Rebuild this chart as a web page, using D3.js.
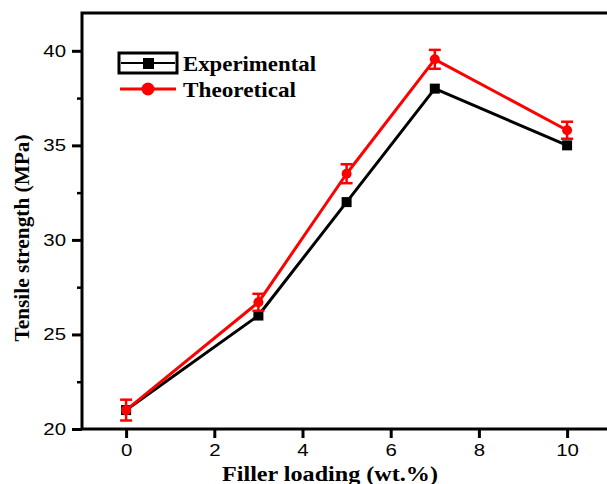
<!DOCTYPE html>
<html>
<head>
<meta charset="utf-8">
<script src="https://cdn.jsdelivr.net/npm/d3@7"></script>
<style>
  html, body { margin: 0; background: #fff; overflow: hidden; }
  svg { display: block; overflow: hidden; }
</style>
</head>
<body>
<svg id="chart" width="607" height="484"></svg>
<script>
/* ---------- data ---------- */
const loading      = [0, 3, 5, 7, 10];
const experimental = [21, 26, 32, 38, 35];
const theoretical  = [21, 26.7, 33.5, 39.55, 35.8];
const theoErr      = [0.55, 0.45, 0.5, 0.5, 0.45];
const xTicks = [0, 2, 4, 6, 8, 10];
const yTicks = [20, 25, 30, 35, 40];
const yMinor = [22.5, 27.5, 32.5, 37.5];

/* ---------- layout ---------- */
const svg = d3.select("#chart");
const L = 82, T = 13, B = 429;
const PX = 44.1;                       // px per wt.% in the reference
const x = d3.scaleLinear().domain([-1, 11.5]).range([L, L + 12.5 * PX]);
const y = d3.scaleLinear().domain([20, 42]).range([B, T]);
const R = x.range()[1];

// stretch a text horizontally to a given width (the reference is stretched)
function stretch(sel, k) {
  sel.each(function () {
    const w = this.getComputedTextLength();
    d3.select(this).attr("textLength", w * k).attr("lengthAdjust", "spacingAndGlyphs");
  });
}

// frame
svg.append("rect")
  .attr("x", L).attr("y", T).attr("width", R - L).attr("height", B - T)
  .attr("fill", "none").attr("stroke", "#000").attr("stroke-width", 3);

// axes
const xAxis = svg.append("g").attr("transform", `translate(0,${B})`)
  .call(d3.axisBottom(x).tickValues(xTicks).tickSize(9).tickPadding(6));
const yAxis = svg.append("g").attr("transform", `translate(${L},0)`)
  .call(d3.axisLeft(y).tickValues(yTicks).tickSize(10).tickPadding(6));
svg.append("g").attr("transform", `translate(${L},0)`)
  .call(d3.axisLeft(y).tickValues(yMinor).tickSize(5).tickFormat(""))
  .call(g => g.select(".domain").remove())
  .selectAll("line").attr("stroke-width", 2.5);

[xAxis, yAxis].forEach(g => {
  g.select(".domain").remove();
  g.selectAll("line").attr("stroke-width", 3);
  g.selectAll("text")
    .attr("font-family", "Liberation Sans, Arial, sans-serif")
    .attr("font-size", 17).attr("fill", "#000")
    .call(stretch, 1.2);
});

// axis titles
svg.append("text")
  .attr("x", 330).attr("y", 481)
  .attr("text-anchor", "middle")
  .attr("font-family", "Liberation Serif, Times New Roman, serif")
  .attr("font-weight", "bold").attr("font-size", 20)
  .attr("textLength", 216).attr("lengthAdjust", "spacingAndGlyphs")
  .text("Filler loading (wt.%)");

svg.append("text")
  .attr("transform", `translate(29,238) rotate(-90)`)
  .attr("text-anchor", "middle")
  .attr("font-family", "Liberation Serif, Times New Roman, serif")
  .attr("font-weight", "bold").attr("font-size", 21)
  .attr("textLength", 207).attr("lengthAdjust", "spacingAndGlyphs")
  .text("Tensile strength (MPa)");

/* ---------- series ---------- */
const line = d3.line().x(d => x(d[0])).y(d => y(d[1]));
const expPts  = loading.map((v, i) => [v, experimental[i]]);
const theoPts = loading.map((v, i) => [v, theoretical[i]]);

svg.append("path").datum(expPts)
  .attr("d", line).attr("fill", "none")
  .attr("stroke", "#000").attr("stroke-width", 3).attr("stroke-linejoin", "round");
svg.selectAll("rect.exp").data(expPts).join("rect")
  .attr("class", "exp")
  .attr("x", d => x(d[0]) - 5).attr("y", d => y(d[1]) - 5)
  .attr("width", 10).attr("height", 10).attr("fill", "#000");

svg.append("path").datum(theoPts)
  .attr("d", line).attr("fill", "none")
  .attr("stroke", "#f00").attr("stroke-width", 3).attr("stroke-linejoin", "round");

const eb = svg.append("g").attr("stroke", "#f00").attr("stroke-width", 2.5);
theoPts.forEach((d, i) => {
  const cx = x(d[0]), y0 = y(d[1] - theoErr[i]), y1 = y(d[1] + theoErr[i]);
  eb.append("line").attr("x1", cx).attr("x2", cx).attr("y1", y0).attr("y2", y1);
  eb.append("line").attr("x1", cx - 6).attr("x2", cx + 6).attr("y1", y0).attr("y2", y0);
  eb.append("line").attr("x1", cx - 6).attr("x2", cx + 6).attr("y1", y1).attr("y2", y1);
});
svg.selectAll("circle.theo").data(theoPts).join("circle")
  .attr("class", "theo")
  .attr("cx", d => x(d[0])).attr("cy", d => y(d[1]))
  .attr("r", 5).attr("fill", "#f00");

/* ---------- legend ---------- */
const lg = svg.append("g");
lg.append("rect").attr("x", 119).attr("y", 53).attr("width", 58).attr("height", 20)
  .attr("fill", "none").attr("stroke", "#000").attr("stroke-width", 3);
lg.append("line").attr("x1", 121).attr("x2", 175).attr("y1", 63).attr("y2", 63)
  .attr("stroke", "#000").attr("stroke-width", 2);
lg.append("rect").attr("x", 143).attr("y", 58).attr("width", 11).attr("height", 11).attr("fill", "#000");
lg.append("line").attr("x1", 120).attr("x2", 176).attr("y1", 89).attr("y2", 89)
  .attr("stroke", "#f00").attr("stroke-width", 3);
lg.append("circle").attr("cx", 148).attr("cy", 89).attr("r", 6.5).attr("fill", "#f00");

const legendLabels = ["Experimental", "Theoretical"];
const legendWidths = [133, 113];
lg.selectAll("text").data(legendLabels).join("text")
  .attr("x", 183).attr("y", (d, i) => 71 + i * 26)
  .attr("font-family", "Liberation Serif, Times New Roman, serif")
  .attr("font-weight", "bold").attr("font-size", 21)
  .attr("textLength", (d, i) => legendWidths[i]).attr("lengthAdjust", "spacingAndGlyphs")
  .text(d => d);
</script>
</body>
</html>
